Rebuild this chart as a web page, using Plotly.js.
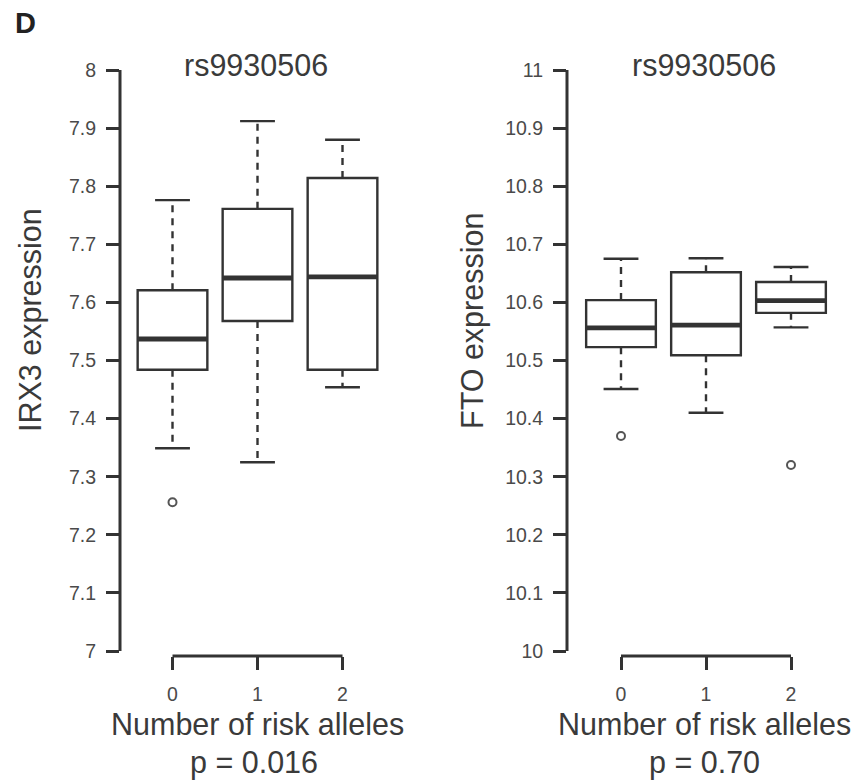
<!DOCTYPE html>
<html>
<head>
<meta charset="utf-8">
<script src="https://cdn.plot.ly/plotly-3.0.1.min.js"></script>
<style>
  html, body { margin: 0; padding: 0; background: #ffffff; }
  #chart { width: 861px; height: 781px; }
</style>
</head>
<body>
<div id="chart"></div>
<script>
// ---------------- data ----------------
const categories = [0, 1, 2];
const categoryLabels = ['0', '1', '2'];

// Left panel: IRX3 expression by number of risk alleles (rs9930506)
const irx3Lower  = [7.349, 7.325, 7.454];
const irx3Q1     = [7.484, 7.568, 7.484];
const irx3Median = [7.537, 7.642, 7.644];
const irx3Q3     = [7.621, 7.761, 7.814];
const irx3Upper  = [7.776, 7.912, 7.880];
const irx3OutlierX = [0];
const irx3OutlierY = [7.256];
const irx3TickVals   = [7, 7.1, 7.2, 7.3, 7.4, 7.5, 7.6, 7.7, 7.8, 7.9, 8];
const irx3TickLabels = ['7', '7.1', '7.2', '7.3', '7.4', '7.5', '7.6', '7.7', '7.8', '7.9', '8'];

// Right panel: FTO expression by number of risk alleles (rs9930506)
const ftoLower  = [10.451, 10.410, 10.557];
const ftoQ1     = [10.523, 10.509, 10.582];
const ftoMedian = [10.556, 10.561, 10.603];
const ftoQ3     = [10.604, 10.652, 10.635];
const ftoUpper  = [10.675, 10.676, 10.661];
const ftoOutlierX = [0, 2];
const ftoOutlierY = [10.370, 10.320];
const ftoTickVals   = [10, 10.1, 10.2, 10.3, 10.4, 10.5, 10.6, 10.7, 10.8, 10.9, 11];
const ftoTickLabels = ['10', '10.1', '10.2', '10.3', '10.4', '10.5', '10.6', '10.7', '10.8', '10.9', '11'];

// ---------------- styling / layout helpers ----------------
const W = 861, H = 781;
const LINE = '#333333';
const TEXT = '#3a3a3a';
const FONT = 'Liberation Sans, Arial, Helvetica, sans-serif';
const BIG = 30.5;
const BOX_W = 0.82;             // box width in category units
const CAP_HALF = BOX_W / 4;     // whisker cap half-length

const px = x => x / W;
const py = y => 1 - y / H;

// vertical geometry (pixels): value range [lo, lo+1] spans 651 -> 70
const yBottomPx = 656, yTopPx = 60, yLoPx = 651, yHiPx = 70;
function yRange(lo, hi) {
  const unit = (yLoPx - yHiPx) / (hi - lo);
  return [lo - (yBottomPx - yLoPx) / unit, hi + (yHiPx - yTopPx) / unit];
}
// horizontal geometry: category 0 at zeroPx, 85px per category
function xRange(leftPx, rightPx, zeroPx) {
  const unit = 85;
  return [(leftPx - zeroPx) / unit, (rightPx - zeroPx) / unit];
}

function panelTraces(xa, ya, lower, q1, med, q3, upper, outX, outY) {
  const traces = [];
  // boxes (whiskers drawn separately so they can be dashed)
  traces.push({
    type: 'box', xaxis: xa, yaxis: ya,
    x: categories, q1: q1, median: med, q3: q3,
    lowerfence: q1, upperfence: q3,
    width: BOX_W, whiskerwidth: 0,
    fillcolor: '#ffffff',
    line: { color: LINE, width: 2.4 },
    boxpoints: false, hoverinfo: 'skip'
  });
  // dashed whiskers
  const wx = [], wy = [];
  categories.forEach((c, i) => {
    wx.push(c, c, null, c, c, null);
    wy.push(q3[i], upper[i], null, q1[i], lower[i], null);
  });
  traces.push({
    type: 'scatter', mode: 'lines', xaxis: xa, yaxis: ya,
    x: wx, y: wy, line: { color: LINE, width: 2.4, dash: '7px,6px' },
    hoverinfo: 'skip', connectgaps: false
  });
  // whisker caps
  const cx = [], cy = [];
  categories.forEach((c, i) => {
    cx.push(c - CAP_HALF, c + CAP_HALF, null, c - CAP_HALF, c + CAP_HALF, null);
    cy.push(upper[i], upper[i], null, lower[i], lower[i], null);
  });
  traces.push({
    type: 'scatter', mode: 'lines', xaxis: xa, yaxis: ya,
    x: cx, y: cy, line: { color: LINE, width: 2.4 },
    hoverinfo: 'skip', connectgaps: false
  });
  // thick median lines
  const mx = [], my = [];
  categories.forEach((c, i) => {
    mx.push(c - BOX_W / 2, c + BOX_W / 2, null);
    my.push(med[i], med[i], null);
  });
  traces.push({
    type: 'scatter', mode: 'lines', xaxis: xa, yaxis: ya,
    x: mx, y: my, line: { color: LINE, width: 4.8 },
    hoverinfo: 'skip', connectgaps: false
  });
  // outliers
  traces.push({
    type: 'scatter', mode: 'markers', xaxis: xa, yaxis: ya,
    x: outX, y: outY,
    marker: { symbol: 'circle-open', size: 8, color: '#555555', line: { width: 2, color: '#555555' } },
    hoverinfo: 'skip'
  });
  return traces;
}

const data = [].concat(
  panelTraces('x', 'y', irx3Lower, irx3Q1, irx3Median, irx3Q3, irx3Upper, irx3OutlierX, irx3OutlierY),
  panelTraces('x2', 'y2', ftoLower, ftoQ1, ftoMedian, ftoQ3, ftoUpper, ftoOutlierX, ftoOutlierY)
);

function xAxis(domL, domR, zeroPx, anchor) {
  return {
    domain: [px(domL), px(domR)], range: xRange(domL, domR, zeroPx),
    anchor: anchor,
    showline: false, showgrid: false, zeroline: false,
    tickmode: 'array', tickvals: categories, ticktext: categoryLabels,
    ticks: 'outside', ticklen: 13, tickwidth: 3, tickcolor: LINE,
    ticklabelstandoff: 8,
    tickfont: { family: FONT, size: 19.5, color: '#4a4a4a' },
    fixedrange: true
  };
}
function yAxis(lo, hi, vals, labels, anchor) {
  return {
    domain: [py(yBottomPx), py(yTopPx)], range: yRange(lo, hi),
    anchor: anchor,
    showline: false, showgrid: false, zeroline: false,
    tickmode: 'array', tickvals: vals, ticktext: labels,
    ticks: 'outside', ticklen: 13, tickwidth: 3, tickcolor: LINE,
    ticklabelstandoff: 6,
    tickfont: { family: FONT, size: 19.5, color: '#4a4a4a' },
    fixedrange: true
  };
}

function axisLines(xa, ya, lo, hi) {
  return [
    { type: 'line', xref: xa + ' domain', yref: ya, x0: 0, x1: 0, y0: lo, y1: hi,
      line: { color: LINE, width: 3 } },
    { type: 'line', xref: xa, yref: ya + ' domain', x0: categories[0], x1: categories[categories.length - 1],
      y0: 0, y1: 0, line: { color: LINE, width: 3 } }
  ];
}

function ann(text, xPx, yPx, size, extra) {
  return Object.assign({
    text: text, xref: 'paper', yref: 'paper', x: px(xPx), y: py(yPx),
    xanchor: 'center', yanchor: 'middle', showarrow: false,
    font: { family: FONT, size: size, color: TEXT }
  }, extra || {});
}

const layout = {
  width: W, height: H,
  margin: { l: 0, r: 0, t: 0, b: 0, pad: 0 },
  paper_bgcolor: '#ffffff', plot_bgcolor: '#ffffff',
  showlegend: false,
  xaxis:  xAxis(120, 400, 172.5, 'y'),
  yaxis:  yAxis(7, 8, irx3TickVals, irx3TickLabels, 'x'),
  xaxis2: xAxis(567, 847, 621, 'y2'),
  yaxis2: yAxis(10, 11, ftoTickVals, ftoTickLabels, 'x2'),
  shapes: [].concat(axisLines('x', 'y', 7, 8), axisLines('x2', 'y2', 10, 11)),
  annotations: [
    ann('<b>D</b>', 25, 23, 29, { font: { family: FONT, size: 29, color: '#222222' } }),
    ann('rs9930506', 256, 65, BIG),
    ann('rs9930506', 704, 65, BIG),
    ann('IRX3 expression', 30, 320, BIG, { textangle: -90 }),
    ann('FTO expression', 473, 321, BIG, { textangle: -90 }),
    ann('Number of risk alleles', 257, 724, BIG),
    ann('p = 0.016', 254, 762, BIG),
    ann('Number of risk alleles', 704, 724, BIG),
    ann('p = 0.70', 704, 762, BIG)
  ]
};

Plotly.newPlot('chart', data, layout, { staticPlot: true, displayModeBar: false });
</script>
</body>
</html>
